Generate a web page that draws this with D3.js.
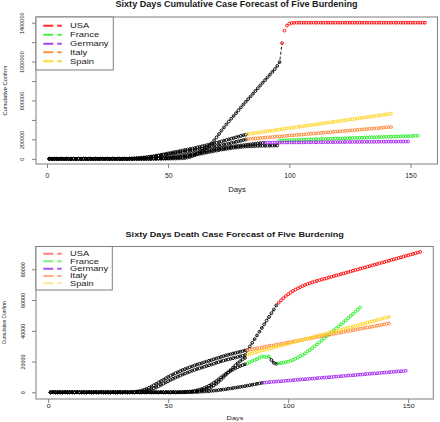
<!DOCTYPE html>
<html><head><meta charset="utf-8">
<script src="https://cdn.jsdelivr.net/npm/d3@7/dist/d3.min.js"></script>
<style>body{margin:0;background:#fff}svg{display:block}text{font-family:"Liberation Sans",Arial,Helvetica,sans-serif;fill:#1a1a1a}</style>
</head><body><svg id="c" width="440" height="422"></svg>
<script>
// ---------- DATA (values in thousands) ----------
const countries = ["USA","France","Germany","Italy","Spain"];
const xTicks = [0,50,100,150];
const caseTicks = [0,200,400,600,800,1000,1200,1400];
const caseTickLabels = ["0","200000","","600000","","1000000","","1400000"];
const deathTicks = [0,20,40,60,80];
const deathTickLabels = ["0","20000","40000","60000","80000"];

// Cumulative cases
const usaCases = [0,0,0,0,0,0,0,0,0,0, 0,0,0,0,0,0,0,0,0,0, 0,0,0,0,0,0,0,0,0,0, 0,0,0,0,0,0,0,0,0,0, 0,0,
 0.1,0.2,0.2,0.4,0.5,0.7,1,1.3,1.7,2.2,2.9,3.5,4.6,6.4,7.8,13.7,19,28,38,50,64,80,98,118,138,160,190,222,255,290,
 322,353,383,412,441,470,499,528,557,586,614,642,670,698,726,754,782,810,838,866,894,922,955,995];
const usaCasesForecast = [1190,1318,1370,1390,1397,1399,1400,1400,1400,1400, 1400,1400,1400,1400,1400,1400,1400,1400,1400,1400,
 1400,1400,1400,1400,1400,1400,1400,1400,1400,1400, 1400,1400,1400,1400,1400,1400,1400,1400,1400,1400,
 1400,1400,1400,1400,1400,1400,1400,1400,1400,1400, 1400,1400,1400,1400,1400,1400,1400,1400,1400,1400];
const franceCases = [0,0,0,0,0,0,0,0,0,0, 0,0,0,0,0,0,0,0,0,0, 0,0,0,0,0,0,0,0,0,0, 0,0,0,0,0,0,0,0,
 0.1,0.2,0.3,0.5,0.8,1.2,1.8,2.5,3.5,4.5, 5.5,7,9,11,13,15.5,18,21,24.5,28, 32,36,40.5,45,50,55,60,65,70,75,
 80,85,90,94,98,102,106,110,113,116, 119,122,124,126,127.5,129,130,131,132,133, 133.5,134,134.5,135,135.5,136,136.5];
const franceCasesForecast = [188,189,190,191,191,192,193,194,195,196, 197,197,198,199,200,201,202,203,203,204,
 205,206,207,208,209,209,210,211,212,213, 214,215,215,216,217,218,219,220,221,221,
 222,223,224,225,226,227,227,228,229,230, 231,232,233,233,234,235,236,237];
const germanyCases = [0,0,0,0,0,0,0,0,0,0, 0,0,0,0,0,0,0,0,0,0, 0,0,0,0,0,0,0,0,0,0, 0,0,0,0,0,0,0,0,
 0.2,0.5,1,1.5,2,3,4,5.5,7,9, 11,13.5,16,19,22,25.5,29,33,37,41, 45.5,50,55,60,65,70,75,80,85,90,
 95,100,104,108,112,116,120,124,128,131, 134,137,140,143,146,149,152,155,158,161, 164];
const germanyCasesForecast = [166,166.2,166.4,166.6,166.8,167,167.2,167.4,167.6,167.8, 168,168.2,168.4,168.6,168.8,169,169.2,169.4,169.6,169.8,
 170,170.2,170.4,170.6,170.8,171,171.2,171.4,171.6,171.8, 172,172.2,172.4,172.6,172.8,173,173.2,173.4,173.6,173.8,
 174,174.2,174.4,174.6,174.8,175,175.2,175.4,175.6,175.8, 176,176.2,176.4,176.6,176.8,177,177.2,177.4,177.6,177.8];
const italyCases = [0,0,0,0,0,0,0,0,0,0, 0,0,0,0,0,0,0,0,0,0, 0,0,0,0,0,0,0,0,0,0,
 0.3,0.6,1,1.8,3,4.5,6,8,10,12.5, 15,18,21,24,27,30.5,34,37.5,41,45, 49,53,57,61,65,69,73,77,81,86,
 90,95,99,104,108,113,117,121,126,130, 135,140,145,150,156,162,168,174,180,186, 192,198];
const italyCasesForecast = [203,205,207,209,211,214,216,218,220,222, 224,226,228,230,232,235,237,239,241,243,
 245,247,249,251,253,256,258,260,262,264, 266,268,270,272,274,277,279,281,283,285,
 287,289,291,293,295,298,300,302,304,306, 308,310,312,314,316,319,321,323,325,327];
const spainCases = [0,0,0,0,0,0,0,0,0,0, 0,0,0,0,0,0,0,0,0,0, 0,0,0,0,0,0,0,0,0,0, 0,0,
 0.5,1,2,3.5,5,7,9.5,12,15,19, 23,27,31,36,41,46,51,56,61,66, 71,76,81,86,91,96,101,106,111,117,
 123,129,135,141,147,153,159,165,172,179, 186,193,200,207,214,221,228,235,242,248];
const spainCasesForecast = [255,259,262,266,269,273,276,280,283,287, 290,294,298,301,305,308,312,315,319,322,
 326,329,333,336,340,344,347,351,354,358, 361,365,368,372,375,379,382,386,390,393,
 397,400,404,407,411,414,418,421,425,428, 432,436,439,443,446,450,453,457,460,464];

// Cumulative deaths
const usaDeaths = [0,0,0,0,0,0,0,0,0,0, 0,0,0,0,0,0,0,0,0,0, 0,0,0,0,0,0,0,0,0,0, 0,0,0,0,0,0,0,0,0,0, 0,0,0,0,0,0,0,0,0,0,
 0.04,0.05,0.06,0.09,0.1,0.15,0.2,0.26,0.35,0.45, 0.6,0.8,1.0,1.3,1.7,2.2,2.8,3.5,4.4,5.5,
 6.8,8.2,9.7,11.3,12.9,14.5,16.1,17.6,19.0,20.3, 21.4,22.4,27.5,29.8,32.2,34.6,37.0,39.4,41.8,44.2, 46.6,49.0,51.4,53.8,56.5];
const usaDeathsForecast = [58.2,59.8,61.3,62.6,63.8,64.9,65.9,66.8,67.6,68.4, 69.1,69.8,70.4,71.0,71.5,72.0,72.5,72.9,73.4,73.8,
 74.2,74.7,75.1,75.6,76.0,76.4,76.9,77.3,77.7,78.2, 78.6,79.1,79.5,79.9,80.4,80.8,81.2,81.7,82.1,82.6,
 83.0,83.4,83.9,84.3,84.7,85.2,85.6,86.1,86.5,86.9, 87.4,87.8,88.2,88.7,89.1,89.6,90.0,90.4,90.9,91.3];
const franceDeaths = [0,0,0,0,0,0,0,0,0,0, 0,0,0,0,0,0,0,0,0,0, 0,0,0,0,0,0,0,0,0,0, 0,0,0,0,0,0,0,0,0,0, 0,0,0,0,0,0,0,0,0,0, 0,0,0,0,
 0.1,0.15,0.2,0.3,0.45,0.65,0.9,1.3,1.7,2.2, 2.8,3.5,4.3,5.2,6.2,7.3,8.5,9.7,10.9,12.0, 13.0,13.9,14.8,15.6,16.4,17.1,17.7,18.2];
const franceDeathsForecastA = [18.8,19.6,20.3,21.0,21.6,22.5,23.4,23.1,22.9,23.2];
const franceDeathsB = [21.0,19.2,18.6];
const franceDeathsForecastB = [18.8,19.0,19.3,19.6,20.0,20.5,21.1,21.8,22.6,23.4, 24.3,25.3,26.4,27.5,28.7,29.9,31.2,32.5,33.8,35.1,
 36.4,37.7,39.0,40.3,41.6,42.9,44.2,45.5,46.8,48.2, 49.6,51.0,52.4,53.8,55.2];
const germanyDeaths = [0,0,0,0,0,0,0,0,0,0, 0,0,0,0,0,0,0,0,0,0, 0,0,0,0,0,0,0,0,0,0, 0,0,0,0,0,0,0,0,0,0, 0,0,0,0,0,0,0,0,0,0, 0,0,0,0,0,0,0,
 0.05,0.07,0.1,0.15,0.2,0.3,0.4,0.5,0.6,0.75, 0.9,1.05,1.2,1.4,1.6,1.8,2.0,2.25,2.5,2.75, 3.0,3.25,3.5,3.75,4.0,4.3,4.6,4.9,5.2,5.5, 5.8,6.1];
const germanyDeathsForecast = [6.3,6.4,6.6,6.7,6.8,7.0,7.1,7.2,7.3,7.5, 7.6,7.7,7.9,8.0,8.1,8.3,8.4,8.5,8.6,8.8,
 8.9,9.0,9.2,9.3,9.4,9.6,9.7,9.8,9.9,10.1, 10.2,10.3,10.5,10.6,10.7,10.9,11.0,11.1,11.2,11.4,
 11.5,11.6,11.8,11.9,12.0,12.2,12.3,12.4,12.5,12.7, 12.8,12.9,13.1,13.2,13.3,13.5,13.6,13.7,13.8,14.0];
const italyDeaths = [0,0,0,0,0,0,0,0,0,0, 0,0,0,0,0,0,0,0,0,0, 0,0,0,0,0,0,0,0,0,0, 0,0,0,
 0.1,0.2,0.3,0.5,0.8,1.2,1.7,2.3,3.0,3.8, 4.6,5.5,6.4,7.3,8.2,9.1,10.0,10.8,11.6,12.4, 13.1,13.8,14.5,15.1,15.7,16.3,16.9,17.5,18.0,18.5,
 19.0,19.5,20.0,20.5,21.0,21.5,22.0,22.5,23.0,23.5, 24.0,24.4,24.8,25.2,25.6,26.0,26.4,26.8,27.2];
const italyDeathsForecast = [27.4,27.7,28.0,28.3,28.6,28.9,29.2,29.5,29.8,30.1, 30.4,30.6,30.9,31.2,31.5,31.8,32.1,32.4,32.7,33.0,
 33.3,33.6,33.9,34.2,34.5,34.8,35.1,35.4,35.7,36.0, 36.2,36.5,36.8,37.1,37.4,37.7,38.0,38.3,38.6,38.9,
 39.2,39.5,39.8,40.1,40.4,40.7,41.0,41.3,41.6,41.9, 42.1,42.4,42.7,43.0,43.3,43.6,43.9,44.2,44.5,44.8];
const spainDeaths = [0,0,0,0,0,0,0,0,0,0, 0,0,0,0,0,0,0,0,0,0, 0,0,0,0,0,0,0,0,0,0, 0,0,0,0,0,0,
 0.1,0.2,0.4,0.7,1.0,1.4,1.9,2.5,3.2,4.0, 4.8,5.6,6.4,7.2,8.0,8.8,9.5,10.2,10.9,11.6, 12.2,12.8,13.4,14.0,14.6,15.1,15.6,16.1,16.6,17.1,
 17.6,18.1,18.6,19.1,19.6,20.1,20.6,21.0,21.4,21.8, 22.2,22.6,23.0,23.4,23.8,24.2];
const spainDeathsForecast = [24.6,25.0,25.4,25.8,26.3,26.7,27.1,27.5,27.9,28.3, 28.7,29.2,29.6,30.0,30.4,30.8,31.2,31.6,32.1,32.5,
 32.9,33.3,33.7,34.1,34.5,34.9,35.4,35.8,36.2,36.6, 37.0,37.4,37.8,38.3,38.7,39.1,39.5,39.9,40.3,40.7,
 41.2,41.6,42.0,42.4,42.8,43.2,43.6,44.1,44.5,44.9, 45.3,45.7,46.1,46.5,47.0,47.4,47.8,48.2,48.6,49.0];

// segments: country, first day, values, forecast flag
const caseSegments = [
  ["USA",1,usaCases,false],["France",1,franceCases,false],["Germany",1,germanyCases,false],
  ["Italy",1,italyCases,false],["Spain",1,spainCases,false],
  ["USA",97,usaCasesForecast,true],["France",96,franceCasesForecast,true],["Germany",90,germanyCasesForecast,true],
  ["Italy",83,italyCasesForecast,true],["Spain",83,spainCasesForecast,true]
];
const deathSegments = [
  ["USA",1,usaDeaths,false],["France",1,franceDeaths,false],["France",93,franceDeathsB,false],
  ["Germany",1,germanyDeaths,false],["Italy",1,italyDeaths,false],["Spain",1,spainDeaths,false],
  ["USA",96,usaDeathsForecast,true],["France",83,franceDeathsForecastA,true],["France",96,franceDeathsForecastB,true],
  ["Germany",90,germanyDeathsForecast,true],["Italy",83,italyDeathsForecast,true],["Spain",83,spainDeathsForecast,true]
];

// ---------- STYLE / LAYOUT ----------
const plotColors = {USA:"#ff0000",France:"#1cee1c",Germany:"#a020f0",Italy:"#ff8433",Spain:"#ffd21a"};
const legendTop = {USA:"#ff2a2a",France:"#44f044",Germany:"#a845f0",Italy:"#ff9040",Spain:"#ffd830"};
const legendBottom = {USA:"#ff8080",France:"#80f080",Germany:"#b050f0",Italy:"#ffb080",Spain:"#ffe890"};

const svg = d3.select("#c");

const panels = [
 {segs:caseSegments, yDomain:[0,1400], yr:[158.8,22.7], xr:[47,410.5], box:[36,17,437.5,164],
  yTicks:caseTicks, yLabels:caseTickLabels, title:"Sixty Days Cumulative Case Forecast of Five Burdening",
  titleX:236.5, titleY:6.6, sy:1, xTickBase:178.3, xTickSize:6.8, daysX:237, daysY:191.5, daysSize:7.8,
  yTickX:22, yTickSize:5.55, yLabX:5, yLabSize:5.7,
  legend:{box:[36,17,113.3,70], rows:[25.7,34.7,43.7,52.3,61.3], size:9.4, sy:0.78, colors:legendTop}},
 {segs:deathSegments, yDomain:[0,80], yr:[392.3,269.3], xr:[48.2,408.2], box:[36,246.5,433.3,399],
  yTicks:deathTicks, yLabels:deathTickLabels, title:"Sixty Days Death Case Forecast of Five Burdening",
  titleX:234.7, titleY:237.3, sy:0.8, xTickBase:408.3, xTickSize:7, daysX:235, daysY:420.3, daysSize:7.4,
  yTickX:23, yTickSize:5.4, yLabX:4.5, yLabSize:4.9,
  legend:{box:[36,246.5,112.3,290], rows:[253.7,261.3,268.7,276,283.3], size:9.3, sy:0.68, colors:legendBottom}}
];

function hText(g, x, y, txt, size, sy, opts={}) {
  const t = g.append("text").attr("transform",`translate(${x},${y}) scale(1,${sy})`)
    .attr("font-size",size).attr("text-anchor",opts.anchor||"middle").text(txt);
  if (opts.bold) t.attr("font-weight","bold");
  if (opts.dy) t.attr("dy",opts.dy);
  return t;
}

panels.forEach(p => {
  const g = svg.append("g");
  const x = d3.scaleLinear().domain([0,150]).range(p.xr);
  const y = d3.scaleLinear().domain(p.yDomain).range(p.yr);
  const [bx0,by0,bx1,by1] = p.box;

  // axes
  const xa = g.append("g").attr("transform",`translate(0,${by1})`)
    .call(d3.axisBottom(x).tickValues(xTicks).tickSize(4).tickSizeOuter(0).tickFormat(d3.format("d")));
  xa.select(".domain").remove();
  xa.selectAll("line").attr("stroke","#808080");
  xa.selectAll("text").attr("dy",null).attr("y",0).attr("font-size",p.xTickSize)
    .attr("transform",`translate(0,${p.xTickBase-by1}) scale(1,${p.sy})`).attr("fill","#1a1a1a");

  const ya = g.append("g").attr("transform",`translate(${bx0},0)`)
    .call(d3.axisLeft(y).tickValues(p.yTicks).tickSize(4).tickSizeOuter(0).tickFormat((d,i)=>p.yLabels[i]));
  ya.select(".domain").remove();
  ya.selectAll("line").attr("stroke","#808080");
  ya.selectAll("text").attr("x",0).attr("dy","0.35em").attr("text-anchor","middle")
    .attr("font-size",p.yTickSize).attr("fill","#1a1a1a")
    .attr("transform",`translate(${p.yTickX-bx0},0) rotate(-90)`);
  ya.selectAll("text").filter(function(){ return this.textContent===""; }).remove();

  xa.attr("font-family",null); ya.attr("font-family",null);

  // box
  g.append("rect").attr("x",bx0).attr("y",by0).attr("width",bx1-bx0).attr("height",by1-by0)
    .attr("fill","none").attr("stroke","#7f7f7f").attr("stroke-width",1);

  // titles and labels
  hText(g,p.titleX,p.titleY,p.title,9.1,p.sy,{bold:true});
  hText(g,p.daysX,p.daysY,"Days",p.daysSize,p.sy);
  g.append("text").attr("transform",`translate(${p.yLabX},${(by0+by1)/2}) rotate(-90)`)
    .attr("dy","0.35em").attr("text-anchor","middle").attr("font-size",p.yLabSize).text("Cumulative Confirm");

  // build per-country point lists
  const pts = {};
  countries.forEach(c => pts[c] = []);
  p.segs.forEach(([c,start,vals,fc]) => vals.forEach((v,i) => pts[c].push({day:start+i, v, fc, c})));
  countries.forEach(c => pts[c].sort((a,b)=>a.day-b.day));

  const line = d3.line().x(d=>x(d.day)).y(d=>y(d.v));
  const lineG = g.append("g");
  countries.forEach(c => {
    const arr = pts[c];
    let run = [];
    const flush = () => { if (run.length>1) lineG.append("path").attr("d",line(run))
        .attr("fill","none").attr("stroke","#000").attr("stroke-width",0.9).attr("stroke-dasharray","3,2"); run = []; };
    for (let i=1;i<arr.length;i++){
      const a=arr[i-1], b=arr[i];
      const ok = (b.day-a.day===1) && !(a.fc && b.fc);
      if (ok) { if (!run.length) run.push(a); run.push(b); } else flush();
    }
    flush();
  });

  // black (actual) points
  const actual = [];
  countries.forEach(c => pts[c].forEach(d => { if(!d.fc) actual.push(d); }));
  g.append("g").selectAll("circle").data(actual).join("circle")
    .attr("cx",d=>x(d.day)).attr("cy",d=>y(d.v)).attr("r",1.4)
    .attr("fill","none").attr("stroke","#000").attr("stroke-width",0.9);
  // forecast points, coloured
  countries.forEach(c => {
    g.append("g").selectAll("circle").data(pts[c].filter(d=>d.fc)).join("circle")
      .attr("cx",d=>x(d.day)).attr("cy",d=>y(d.v)).attr("r",1.4)
      .attr("fill","none").attr("stroke",plotColors[c]).attr("stroke-width",0.9);
  });

  // legend
  const L = p.legend;
  g.append("rect").attr("x",L.box[0]).attr("y",L.box[1]).attr("width",L.box[2]-L.box[0]).attr("height",L.box[3]-L.box[1])
    .attr("fill","#fff").attr("stroke","#7f7f7f").attr("stroke-width",1);
  countries.forEach((c,i) => {
    g.append("line").attr("x1",43.3).attr("x2",61.7).attr("y1",L.rows[i]).attr("y2",L.rows[i])
      .attr("stroke",L.colors[c]).attr("stroke-width",2).attr("stroke-dasharray","10,4");
    hText(g,70,L.rows[i],c,L.size,L.sy,{anchor:"start",dy:"0.35em"});
  });
});
</script></body></html>
